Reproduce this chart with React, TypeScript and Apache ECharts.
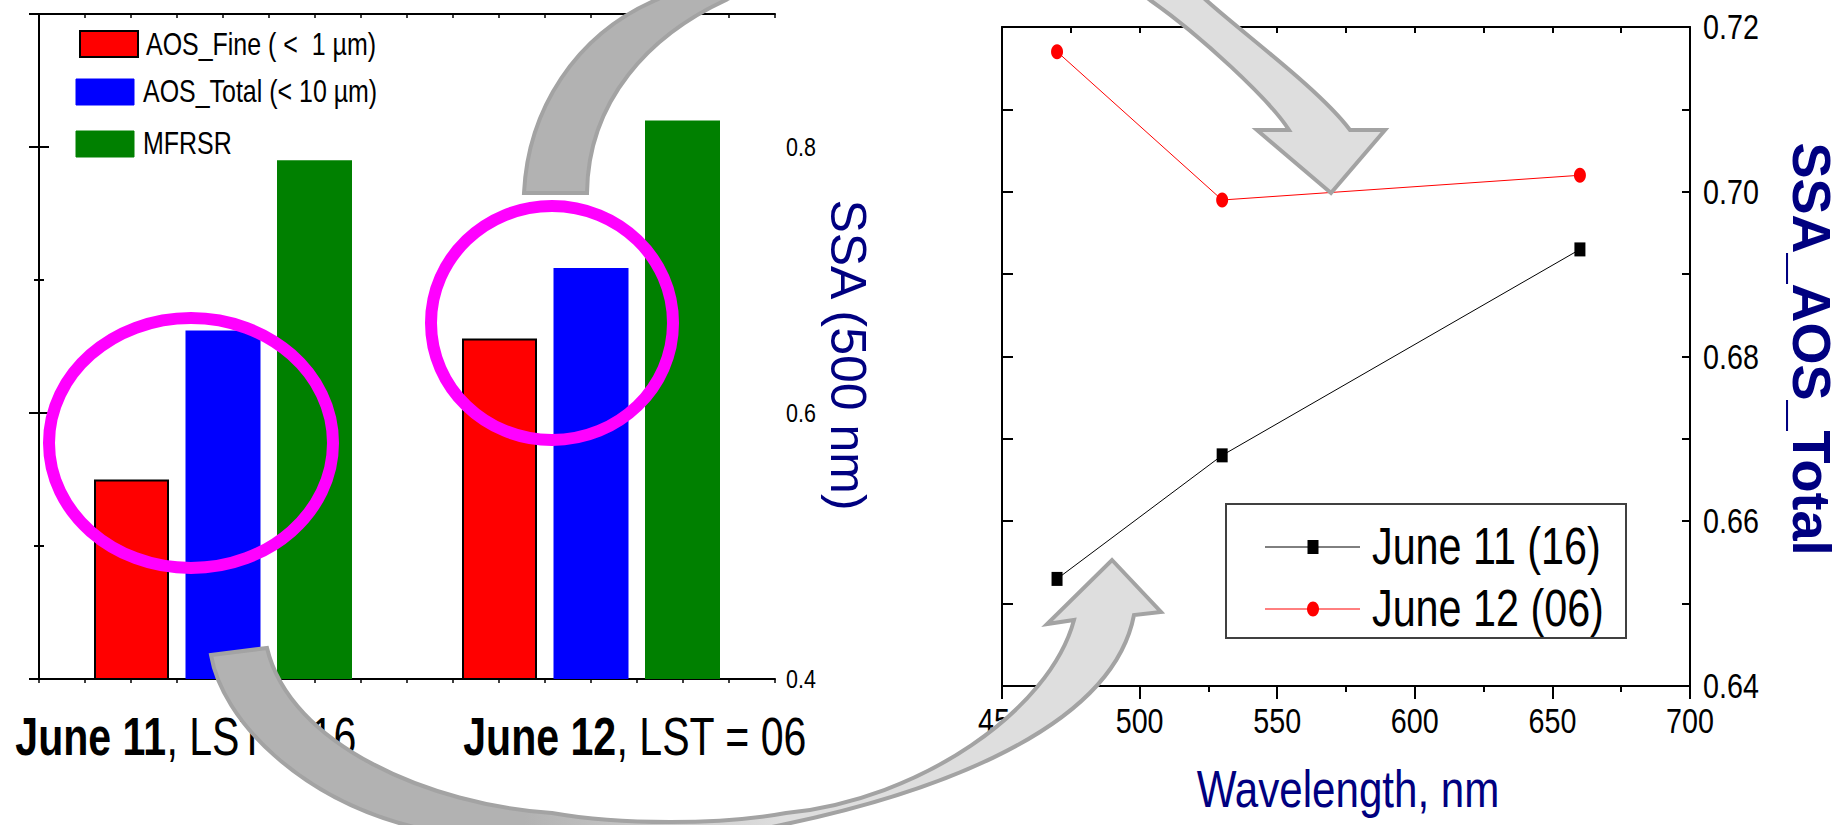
import React, { useEffect, useRef } from "react";
import * as echarts from "echarts";

// ---- data: bar panel (SSA at 500 nm) ----
const categories = ["June 11", "June 12"];
const lstHours = ["16", "06"];
const barSeriesNames = ["AOS_Fine ( <  1 µm)", "AOS_Total (< 10 µm)", "MFRSR"];
const aosFine = [0.55, 0.656];
const aosTotal = [0.662, 0.709];
const mfrsr = [0.79, 0.82];
const ssaTickLabels = [0.4, 0.6, 0.8];

// ---- data: spectral panel (SSA_AOS_Total vs wavelength) ----
const wavelengths = [470, 530, 660];
const ssaJune11 = [0.653, 0.668, 0.693];
const ssaJune12 = [0.717, 0.699, 0.702];
const lineSeriesNames = categories.map((c, i) => `${c} (${lstHours[i]})`);
const wavelengthTicks = [450, 500, 550, 600, 650, 700];
const aosTickLabels = [0.64, 0.66, 0.68, 0.7, 0.72];

const SANS = "'Liberation Sans', Arial, Helvetica, sans-serif";
const NAVY = "#000080";
const BLACK = "#000";
const BAR_COLORS = ["#ff0000", "#0000ff", "#008000"];
const LINE_COLORS = ["#000000", "#ff0000"];

// Curved call-out arrows (page coordinates)
const ARROW_UPPER_D =
  "M524 193 C528 110 575 35 656 0 C816 -80 1096 -100 1206 0 C1245 35 1320 90 1350 130 " +
  "L1385 130 L1331 193 L1257 130 L1289 130 C1270 100 1200 35 1150 0 C1100 -40 800 -45 726 0 " +
  "C650 35 588 100 587 193 Z";
const ARROW_LOWER_D =
  "M211 655 C222 720 300 800 418 828 C498 847 706 843 786 824 C900 800 1110 740 1134 615 " +
  "L1161 612 L1112 560 L1047 624 L1074 620 C1050 710 920 800 786 813 C720 825 620 825 552 813 " +
  "C430 805 290 745 267 648 Z";

echarts.graphic.registerShape("arrowUpper", echarts.graphic.extendPath(ARROW_UPPER_D, {}));
echarts.graphic.registerShape("arrowLower", echarts.graphic.extendPath(ARROW_LOWER_D, {}));

const grayFade = (from: number, to: number) =>
  new echarts.graphic.LinearGradient(0, 0, 1, 0, [
    { offset: 0, color: "#b2b2b2" },
    { offset: from, color: "#b2b2b2" },
    { offset: to, color: "#dedede" },
    { offset: 1, color: "#dedede" },
  ]);

function buildBaseOption(): echarts.EChartsOption {
  const tickAxisX = (position: "top" | "bottom", inside: boolean) => ({
    gridIndex: 0,
    type: "value" as const,
    position,
    min: 0,
    max: 16,
    interval: 1,
    axisLine: { show: true, lineStyle: { color: BLACK, width: 2 } },
    axisTick: { show: true, inside, length: 4, lineStyle: { color: BLACK, width: 1.5 } },
    axisLabel: { show: false },
    splitLine: { show: false },
  });

  const ssaAxis = (position: "left" | "right", interval: number, tickLen: number, withLine: boolean) => ({
    gridIndex: 0,
    type: "value" as const,
    position,
    min: 0.4,
    max: 0.9,
    interval,
    axisLine: { show: withLine, lineStyle: { color: BLACK, width: 2 } },
    axisTick: { show: true, inside: true, length: tickLen, lineStyle: { color: BLACK, width: 2 } },
    axisLabel: { show: false },
    splitLine: { show: false },
  });

  const wlAxis = (position: "top" | "bottom") => ({
    gridIndex: 1,
    type: "value" as const,
    position,
    min: wavelengthTicks[0],
    max: wavelengthTicks[wavelengthTicks.length - 1],
    interval: 50,
    axisLine: { show: true, lineStyle: { color: BLACK, width: 2 } },
    axisTick: {
      show: true,
      inside: position === "top",
      length: position === "top" ? 6 : 13,
      lineStyle: { color: BLACK, width: 2 },
    },
    minorTick: {
      show: true,
      splitNumber: 2,
      length: 6,
      lineStyle: { color: BLACK, width: 2 },
    },
    axisLabel: { show: false },
    splitLine: { show: false },
    minorSplitLine: { show: false },
  });

  const aosAxis = (position: "left" | "right", tickLen: number) => ({
    gridIndex: 1,
    type: "value" as const,
    position,
    min: aosTickLabels[0],
    max: aosTickLabels[aosTickLabels.length - 1],
    interval: 0.01,
    axisLine: { show: true, lineStyle: { color: BLACK, width: 2 } },
    axisTick: { show: true, inside: true, length: tickLen, lineStyle: { color: BLACK, width: 2 } },
    axisLabel: { show: false },
    splitLine: { show: false },
  });

  const barData = [aosFine, aosTotal, mfrsr];
  const lineData = [ssaJune11, ssaJune12];

  return {
    animation: false,
    backgroundColor: "#fff",
    grid: [
      { left: 39, top: 14, width: 736, height: 665, outerBoundsMode: "none" } as any,
      { left: 1002, top: 27, width: 688, height: 659, outerBoundsMode: "none" } as any,
    ],
    xAxis: [
      {
        gridIndex: 0,
        type: "category",
        position: "bottom",
        data: categories,
        axisLine: { show: false },
        axisTick: { show: false },
        axisLabel: { show: false },
        splitLine: { show: false },
      },
      tickAxisX("bottom", false),
      tickAxisX("top", true),
      wlAxis("bottom"),
      wlAxis("top"),
    ],
    yAxis: [
      {
        ...ssaAxis("right", 0.2, 10, true),
        name: "SSA (500 nm)",
        nameLocation: "middle",
        nameRotate: -90,
        nameGap: 48,
        nameTextStyle: {
          fontFamily: SANS,
          fontSize: 50,
          lineHeight: 50,
          color: NAVY,
          padding: [0, 0, 0, 17],
        },
      },
      ssaAxis("right", 0.1, 5, false),
      ssaAxis("left", 0.2, 10, true),
      ssaAxis("left", 0.1, 5, false),
      {
        ...aosAxis("right", 8),
        name: "SSA_AOS_Total",
        nameLocation: "middle",
        nameRotate: -90,
        nameGap: 95,
        nameTextStyle: {
          fontFamily: SANS,
          fontWeight: "bold",
          fontSize: 54,
          lineHeight: 54,
          color: NAVY,
          padding: [0, 15, 0, 0],
        },
      },
      aosAxis("left", 11),
    ],
    series: [
      ...barData.map((data, i) => ({
        type: "bar" as const,
        name: barSeriesNames[i],
        xAxisIndex: 0,
        yAxisIndex: 0,
        data,
        barWidth: 75,
        barGap: "22%",
        itemStyle:
          i === 0
            ? { color: BAR_COLORS[i], borderColor: BLACK, borderWidth: 2 }
            : { color: BAR_COLORS[i] },
      })),
      ...lineData.map((vals, i) => ({
        type: "line" as const,
        name: lineSeriesNames[i],
        xAxisIndex: 3,
        yAxisIndex: 4,
        data: wavelengths.map((w, k) => [w, vals[k]]),
        symbol: i === 0 ? "rect" : "circle",
        symbolSize: i === 0 ? [11, 14] : [12, 15],
        lineStyle: { color: LINE_COLORS[i], width: 1 },
        itemStyle: { color: LINE_COLORS[i] },
      })),
    ],
  };
}

// Condensed text: Liberation Sans squeezed horizontally
function narrowText(
  text: string,
  x: number,
  y: number,
  fontSize: number,
  scaleX: number,
  align: "left" | "center" | "right" = "center",
  fill: string = BLACK,
  extra: Record<string, unknown> = {}
) {
  return {
    type: "text",
    x,
    y,
    scaleX,
    z: 30,
    silent: true,
    style: {
      text,
      fontFamily: SANS,
      fontSize,
      fill,
      align,
      verticalAlign: "middle",
      ...extra,
    },
  };
}

function buildGraphics(chart: echarts.ECharts): any[] {
  const xPix = (axis: number, v: number | string) =>
    chart.convertToPixel({ xAxisIndex: axis }, v as any) as number;
  const yPix = (axis: number, v: number) =>
    chart.convertToPixel({ yAxisIndex: axis }, v) as number;

  const leftBottom = yPix(0, 0.4);
  const leftRight = xPix(1, 16);
  const rightBottom = yPix(4, aosTickLabels[0]);
  const rightRight = xPix(3, wavelengthTicks[wavelengthTicks.length - 1]);
  const wlMid = (xPix(3, wavelengthTicks[0]) + rightRight) / 2;

  const els: any[] = [];

  // SSA (500 nm) tick labels
  ssaTickLabels.forEach((v) => {
    els.push(narrowText(v.toFixed(1), leftRight + 11, yPix(0, v), 25, 0.86, "left"));
  });

  // category labels under the bar groups
  const catShift = [-37, 44];
  categories.forEach((c, i) => {
    els.push(
      narrowText(
        `{b|${c}}{r|, LST = ${lstHours[i]}}`,
        xPix(0, i) + catShift[i],
        leftBottom + 58,
        53,
        0.775,
        "center",
        BLACK,
        {
          rich: {
            b: { fontFamily: SANS, fontSize: 53, fontWeight: "bold", fill: BLACK },
            r: { fontFamily: SANS, fontSize: 53, fill: BLACK },
          },
        }
      )
    );
  });

  // wavelength tick labels
  wavelengthTicks.forEach((v) => {
    els.push(narrowText(String(v), xPix(3, v), rightBottom + 35, 35, 0.82, "center"));
  });

  // SSA_AOS_Total tick labels
  aosTickLabels.forEach((v) => {
    els.push(narrowText(v.toFixed(2), rightRight + 13, yPix(4, v), 35, 0.82, "left"));
  });

  // x-axis title of the spectral panel
  els.push(narrowText("Wavelength, nm", wlMid + 2, rightBottom + 103, 52, 0.81, "center", NAVY));

  // legend of the bar panel
  const swatches = [
    { x: 80, y: 31, text: 146, ty: 44 },
    { x: 76, y: 79, text: 143, ty: 91 },
    { x: 76, y: 131, text: 143, ty: 143 },
  ];
  swatches.forEach((s, i) => {
    els.push({
      type: "rect",
      z: 30,
      shape: { x: s.x, y: s.y, width: 58, height: 26 },
      style: {
        fill: BAR_COLORS[i],
        stroke: i === 0 ? BLACK : BAR_COLORS[i],
        lineWidth: i === 0 ? 2 : 1,
      },
    });
    els.push(narrowText(barSeriesNames[i], s.text, s.ty, 32, 0.78, "left"));
  });

  // legend of the spectral panel
  els.push({
    type: "rect",
    z: 20,
    shape: { x: 1226, y: 504, width: 400, height: 134 },
    style: { fill: "#fff", stroke: "#404040", lineWidth: 2 },
  });
  const rows = [547, 609];
  rows.forEach((ry, i) => {
    els.push({
      type: "line",
      z: 21,
      shape: { x1: 1265, y1: ry, x2: 1360, y2: ry },
      style: { stroke: LINE_COLORS[i], lineWidth: 1 },
    });
    els.push(
      i === 0
        ? {
            type: "rect",
            z: 22,
            shape: { x: 1313 - 5.5, y: ry - 7, width: 11, height: 14 },
            style: { fill: LINE_COLORS[i] },
          }
        : {
            type: "ellipse",
            z: 22,
            shape: { cx: 1313, cy: ry, rx: 6, ry: 7.5 },
            style: { fill: LINE_COLORS[i] },
          }
    );
    const t = narrowText(lineSeriesNames[i], 1372, ry - 1, 51, 0.81, "left");
    (t as any).z = 22;
    els.push(t);
  });

  // highlight rings
  els.push({
    type: "ellipse",
    z: 40,
    shape: { cx: 191, cy: 443, rx: 142, ry: 125 },
    style: { fill: "none", stroke: "#ff00ff", lineWidth: 12 },
  });
  els.push({
    type: "ellipse",
    z: 40,
    shape: { cx: 552, cy: 323, rx: 121, ry: 117 },
    style: { fill: "none", stroke: "#ff00ff", lineWidth: 12 },
  });

  // curved arrows linking the panels
  els.push({
    type: "arrowUpper",
    z: 50,
    x: 0,
    y: 0,
    scaleX: 1,
    scaleY: 1,
    style: { fill: grayFade(0.27, 0.7), stroke: "#a3a3a3", lineWidth: 4 },
  });
  els.push({
    type: "arrowLower",
    z: 50,
    x: 0,
    y: 0,
    scaleX: 1,
    scaleY: 1,
    style: { fill: grayFade(0.33, 0.6), stroke: "#a3a3a3", lineWidth: 4 },
  });

  return els;
}

export default function App() {
  const ref = useRef<HTMLDivElement>(null);

  useEffect(() => {
    if (!ref.current) return;
    const chart = echarts.init(ref.current, undefined, { renderer: "svg" });
    chart.setOption(buildBaseOption());
    chart.setOption({ graphic: { elements: buildGraphics(chart) } });
    return () => chart.dispose();
  }, []);

  return (
    <div
      ref={ref}
      style={{
        position: "fixed",
        left: 0,
        top: 0,
        width: 1841,
        height: 825,
        background: "#fff",
      }}
    />
  );
}
